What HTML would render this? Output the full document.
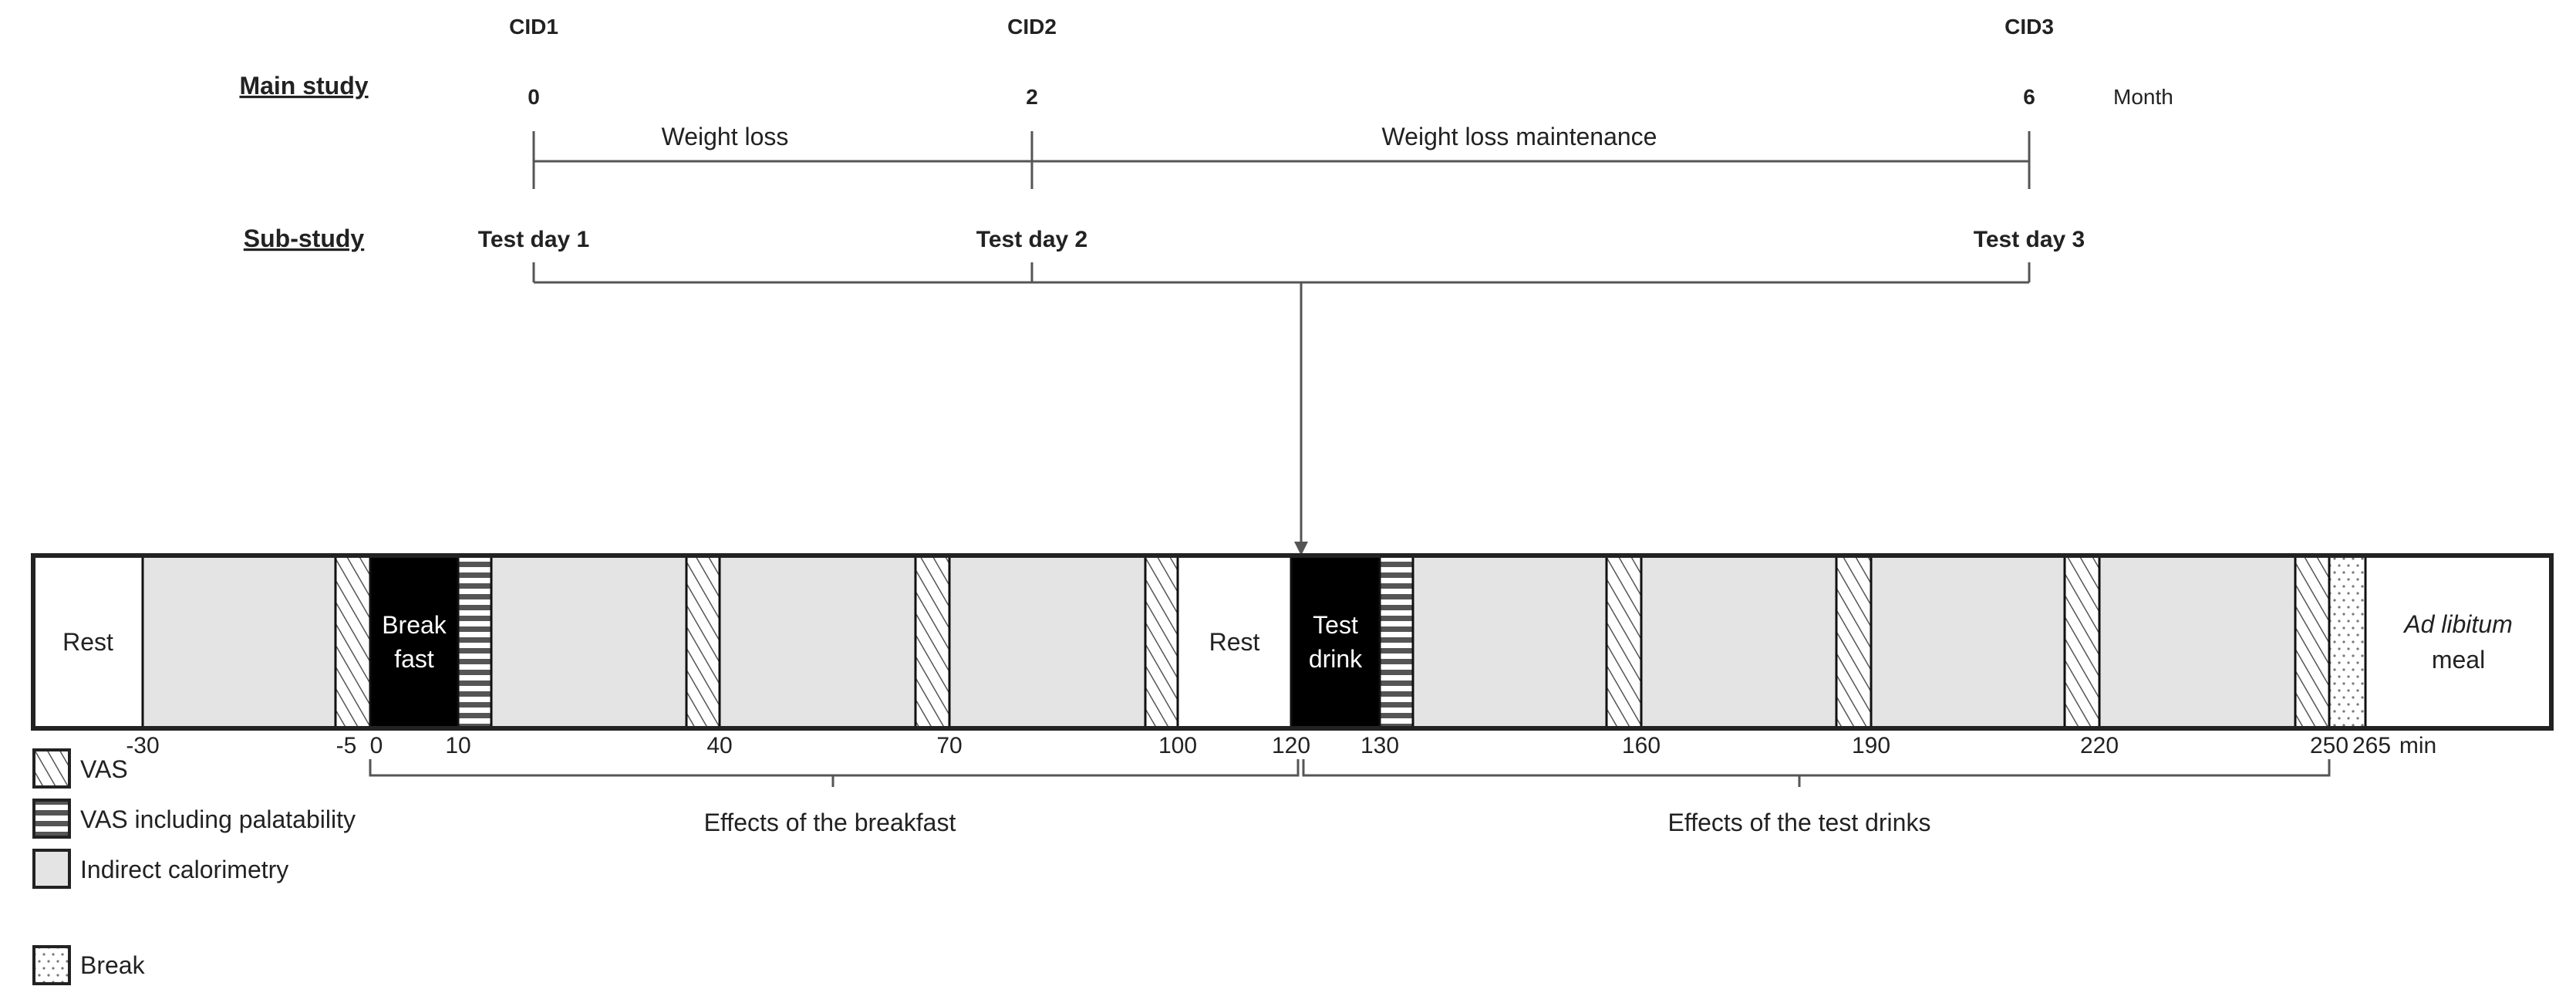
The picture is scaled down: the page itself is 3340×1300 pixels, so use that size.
<!DOCTYPE html>
<html><head><meta charset="utf-8">
<style>
html,body{margin:0;padding:0;background:#fff;}
svg{display:block;}
text{font-family:"Liberation Sans",sans-serif;fill:#222;}
</style></head>
<body>
<svg id="chart" width="3340" height="1300" viewBox="0 0 3340 1300">
<defs>
<pattern id="hatch" patternUnits="userSpaceOnUse" width="14" height="14" patternTransform="rotate(-30)">
<rect width="14" height="14" fill="#fff"/><line x1="0" y1="0" x2="0" y2="14" stroke="#555" stroke-width="3"/></pattern>
<pattern id="hstripe" patternUnits="userSpaceOnUse" width="10" height="14">
<rect width="10" height="14" fill="#fff"/><rect y="0" width="10" height="7" fill="#555"/></pattern>
<pattern id="dots" patternUnits="userSpaceOnUse" width="12" height="18">
<rect width="12" height="18" fill="#fff"/><circle cx="3" cy="4" r="1.6" fill="#777"/><circle cx="9" cy="13" r="1.6" fill="#777"/></pattern>
</defs>

<g font-size="32">
<text x="394" y="122" text-anchor="middle" font-weight="bold" text-decoration="underline">Main study</text>
<text x="692" y="44" text-anchor="middle" font-weight="bold" font-size="28">CID1</text>
<text x="1338" y="44" text-anchor="middle" font-weight="bold" font-size="28">CID2</text>
<text x="2631" y="44" text-anchor="middle" font-weight="bold" font-size="28">CID3</text>
<text x="692" y="135" text-anchor="middle" font-weight="bold" font-size="28">0</text>
<text x="1338" y="135" text-anchor="middle" font-weight="bold" font-size="28">2</text>
<text x="2631" y="135" text-anchor="middle" font-weight="bold" font-size="28">6</text>
<text x="2740" y="135" font-size="28">Month</text>
<text x="940" y="188" text-anchor="middle">Weight loss</text>
<text x="1970" y="188" text-anchor="middle">Weight loss maintenance</text>
<g stroke="#555" stroke-width="3">
<line x1="692" y1="209" x2="2631" y2="209"/>
<line x1="692" y1="170" x2="692" y2="245"/>
<line x1="1338" y1="170" x2="1338" y2="245"/>
<line x1="2631" y1="170" x2="2631" y2="245"/>
</g>
<text x="394" y="320" text-anchor="middle" font-weight="bold" text-decoration="underline">Sub-study</text>
<text x="692" y="320" text-anchor="middle" font-weight="bold" font-size="30">Test day 1</text>
<text x="1338" y="320" text-anchor="middle" font-weight="bold" font-size="30">Test day 2</text>
<text x="2631" y="320" text-anchor="middle" font-weight="bold" font-size="30">Test day 3</text>
<g stroke="#555" stroke-width="3">
<line x1="692" y1="366" x2="2631" y2="366"/>
<line x1="692" y1="340" x2="692" y2="366"/>
<line x1="1338" y1="340" x2="1338" y2="366"/>
<line x1="2631" y1="340" x2="2631" y2="366"/>
<line x1="1687" y1="366" x2="1687" y2="706"/>
</g>
<polygon points="1678,702 1696,702 1687,720" fill="#555"/>
</g>

<g id="bar"></g>
<g id="ticks"></g>

<g stroke="#555" stroke-width="3" fill="none">
<polyline points="480,984 480,1005 1683,1005 1683,984"/>
<line x1="1080" y1="1005" x2="1080" y2="1020"/>
<polyline points="1690,984 1690,1005 3020,1005 3020,984"/>
<line x1="2333" y1="1005" x2="2333" y2="1020"/>
</g>
<text x="1076" y="1077" text-anchor="middle" font-size="32">Effects of the breakfast</text>
<text x="2333" y="1077" text-anchor="middle" font-size="32">Effects of the test drinks</text>

<g font-size="32" stroke="#222">
<g><rect x="44" y="972" width="46" height="48" fill="url(#hatch)" stroke-width="4"/><text x="104" y="1008" stroke="none">VAS</text></g>
<g><rect x="44" y="1037" width="46" height="48" fill="url(#hstripe)" stroke-width="4"/><text x="104" y="1073" stroke="none">VAS including palatability</text></g>
<g><rect x="44" y="1102" width="46" height="48" fill="#e4e4e4" stroke-width="4"/><text x="104" y="1138" stroke="none">Indirect calorimetry</text></g>
<g><rect x="44" y="1227" width="46" height="48" fill="url(#dots)" stroke-width="4"/><text x="104" y="1262" stroke="none">Break</text></g>
</g>
</svg>
<script>
const segTypes  = ["rest","cal","vas","food","pal","cal","vas","cal","vas","cal","vas","rest","food","pal","cal","vas","cal","vas","cal","vas","cal","vas","brk","meal"];
const segStarts = [-45,-30,-9,0,10,14,36,40,66,70,96,100,120,130,134,156,160,186,190,216,220,246,250,255];
const segEnds   = [-30,-9,0,10,14,36,40,66,70,96,100,120,130,134,156,160,186,190,216,220,246,250,255,290];
const tickValues = [-30,-5,0,10,40,70,100,120,130,160,190,220,250,265];
const tickLabels = ["-30","-5","0","10","40","70","100","120","130","160","190","220","250","265"];
const knotMin = [-45,-30,-9,0,10,14,36,40,66,70,96,100,120,130,134,156,160,186,190,216,220,246,250,255,290];
const knotPx  = [43,185,435,480,594,637,890,933,1187,1231,1485,1527,1674,1789,1832,2083,2128,2381,2426,2677,2722,2976,3020,3067,3308];
function xs(m){
  if(m<=knotMin[0]) return knotPx[0];
  for(let i=1;i<knotMin.length;i++){
    if(m<=knotMin[i]){const t=(m-knotMin[i-1])/(knotMin[i]-knotMin[i-1]);return knotPx[i-1]+t*(knotPx[i]-knotPx[i-1]);}
  }
  return knotPx[knotPx.length-1];
}
const NS="http://www.w3.org/2000/svg";
const barTop=720, barBot=944;
const fills={rest:"#fff",cal:"#e4e4e4",vas:"url(#hatch)",food:"#000",pal:"url(#hstripe)",brk:"url(#dots)",meal:"#fff"};
const bar=document.getElementById("bar");
for(let i=0;i<segTypes.length;i++){
  const r=document.createElementNS(NS,"rect");
  const x0=xs(segStarts[i]), x1=xs(segEnds[i]);
  r.setAttribute("x",x0);r.setAttribute("y",barTop);
  r.setAttribute("width",x1-x0);r.setAttribute("height",barBot-barTop);
  r.setAttribute("fill",fills[segTypes[i]]);r.setAttribute("stroke","#111");r.setAttribute("stroke-width","3");
  
  
  bar.appendChild(r);
}
const frame=document.createElementNS(NS,"rect");
frame.setAttribute("x",xs(segStarts[0]));frame.setAttribute("y",barTop);
frame.setAttribute("width",xs(segEnds[segEnds.length-1])-xs(segStarts[0]));frame.setAttribute("height",barBot-barTop);
frame.setAttribute("fill","none");frame.setAttribute("stroke","#222");frame.setAttribute("stroke-width","6");


bar.appendChild(frame);
function label(txt,x,y,opts){
  const t=document.createElementNS(NS,"text");
  t.setAttribute("x",x);t.setAttribute("y",y);t.setAttribute("text-anchor","middle");
  t.setAttribute("font-size",opts.size||32);
  if(opts.fill) t.setAttribute("style","fill:"+opts.fill);
  if(opts.italic) t.setAttribute("font-style","italic");
  t.textContent=txt;return t;
}
function segLabel(i,lines,opts){
  const cx=(xs(segStarts[i])+xs(segEnds[i]))/2;
  const cy=(barTop+barBot)/2, lh=44;
  lines.forEach((ln,k)=>{
    const t=label(ln,cx,cy+(k-(lines.length-1)/2)*lh+11,opts);
    
    
    bar.appendChild(t);
  });
}
segLabel(0,["Rest"],{});
segLabel(3,["Break","fast"],{fill:"#fff"});
segLabel(11,["Rest"],{});
segLabel(12,["Test","drink"],{fill:"#fff"});
const ad=label("Ad libitum",(xs(255)+xs(290))/2,820,{italic:true});


bar.appendChild(ad);
const ml=label("meal",(xs(255)+xs(290))/2,866,{});


bar.appendChild(ml);
const ticks=document.getElementById("ticks");
tickValues.forEach((v,i)=>{
  let x=xs(v); if(v===-5) x-=6; if(v===0) x+=8; if(v===265) x=xs(255)+8;
  const t=label(tickLabels[i],x,976,{size:30});
  
  
  ticks.appendChild(t);
});
const mn=label("min",xs(255)+68,976,{size:30});


ticks.appendChild(mn);
</script>
</body></html>
